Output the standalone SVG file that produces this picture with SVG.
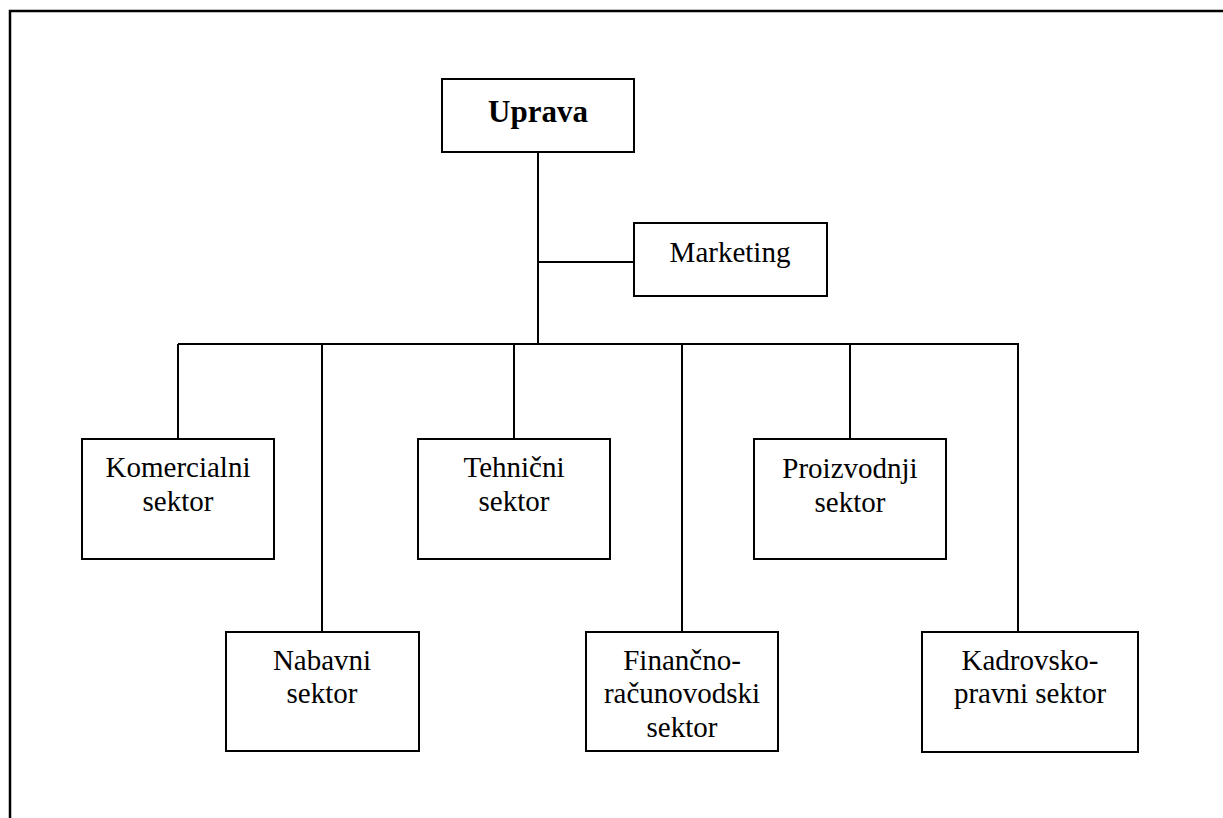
<svg xmlns="http://www.w3.org/2000/svg" width="1223" height="818" viewBox="0 0 1223 818">
  <style>
    .box { fill: #ffffff; stroke: #000000; stroke-width: 2; }
    .line { fill: none; stroke: #000000; stroke-width: 2; }
    .frame { fill: none; stroke: #000000; stroke-width: 2.5; }
    text { font-family: "Liberation Serif", "Times New Roman", serif; font-size: 29px; fill: #000000; text-anchor: middle; }
    .title { font-weight: bold; font-size: 31px; }
  </style>
  <rect width="1223" height="818" fill="#ffffff"/>

  <!-- page frame (top and left edges) -->
  <path class="frame" d="M10,818 V11 H1223"/>

  <!-- connectors -->
  <g id="connectors">
    <path class="line" d="M538,152 V344"/>
    <path class="line" d="M538,262 H634"/>
    <path class="line" d="M178,344 H1019"/>
    <path class="line" d="M178,344 V439"/>
    <path class="line" d="M322,344 V632"/>
    <path class="line" d="M514,344 V439"/>
    <path class="line" d="M682,344 V632"/>
    <path class="line" d="M850,344 V439"/>
    <path class="line" d="M1018,344 V632"/>
  </g>

  <g id="uprava">
    <rect class="box" x="442" y="79" width="192" height="73"/>
    <text class="title" x="538" y="122">Uprava</text>
  </g>

  <g id="marketing">
    <rect class="box" x="634" y="223" width="193" height="73"/>
    <text x="730" y="262">Marketing</text>
  </g>

  <g id="komercialni">
    <rect class="box" x="82" y="439" width="192" height="120"/>
    <text x="178" y="477">Komercialni</text>
    <text x="178" y="511">sektor</text>
  </g>

  <g id="nabavni">
    <rect class="box" x="226" y="632" width="193" height="119"/>
    <text x="322" y="670">Nabavni</text>
    <text x="322" y="703">sektor</text>
  </g>

  <g id="tehnicni">
    <rect class="box" x="418" y="439" width="192" height="120"/>
    <text x="514" y="477">Tehnični</text>
    <text x="514" y="511">sektor</text>
  </g>

  <g id="financno">
    <rect class="box" x="586" y="632" width="192" height="119"/>
    <text x="682" y="670">Finančno-</text>
    <text x="682" y="703">računovodski</text>
    <text x="682" y="737">sektor</text>
  </g>

  <g id="proizvodnji">
    <rect class="box" x="754" y="439" width="192" height="120"/>
    <text x="850" y="478">Proizvodnji</text>
    <text x="850" y="512">sektor</text>
  </g>

  <g id="kadrovsko">
    <rect class="box" x="922" y="632" width="216" height="120"/>
    <text x="1030" y="670">Kadrovsko-</text>
    <text x="1030" y="703">pravni sektor</text>
  </g>
</svg>
